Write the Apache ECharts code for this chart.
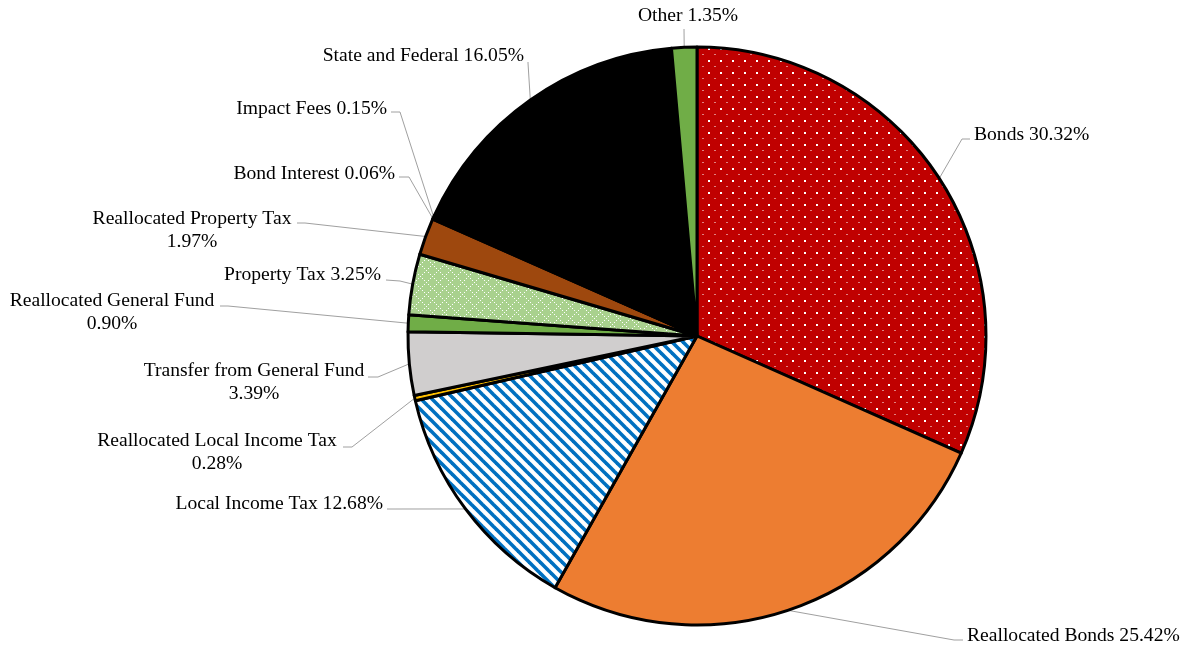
<!DOCTYPE html>
<html>
<head>
<meta charset="utf-8">
<title>Funding Sources</title>
<script src="https://cdn.jsdelivr.net/npm/echarts/dist/echarts.min.js"></script>
<style>
  html, body { margin: 0; padding: 0; background: #fff; }
  #chart { width: 1183px; height: 648px; }
</style>
</head>
<body>
<div id="chart"></div>
<script>
// Funding sources, shares in percent (clockwise from 12 o'clock)
const categories = [
  'Bonds', 'Reallocated Bonds', 'Local Income Tax', 'Reallocated Local Income Tax',
  'Transfer from General Fund', 'Reallocated General Fund', 'Property Tax',
  'Reallocated Property Tax', 'Bond Interest', 'Impact Fees', 'State and Federal', 'Other'
];
const shares = [30.32, 25.42, 12.68, 0.28, 3.39, 0.90, 3.25, 1.97, 0.06, 0.15, 16.05, 1.35];
// Labels whose percentage sits on a second line
const wrapPercent = [false, false, false, true, true, true, false, true, false, false, false, false];

// Label placement: text anchor, then leader elbow and leader end next to the text
const labelSpots = [
  { x: 974, y: 135, align: 'left',   bx: 962, by: 139, ex: 970, ey: 139 },
  { x: 967, y: 636, align: 'left',   bx: 954, by: 640, ex: 963, ey: 640 },
  { x: 383, y: 504, align: 'right',  bx: 396, by: 509, ex: 387, ey: 509 },
  { x: 217, y: 452, align: 'center', bx: 352, by: 447, ex: 343, ey: 447 },
  { x: 254, y: 382, align: 'center', bx: 378, by: 377, ex: 368, ey: 377 },
  { x: 112, y: 312, align: 'center', bx: 228, by: 306, ex: 220, ey: 306 },
  { x: 381, y: 275, align: 'right',  bx: 400, by: 281, ex: 386, ey: 280 },
  { x: 192, y: 230, align: 'center', bx: 305, by: 223, ex: 297, ey: 223 },
  { x: 395, y: 174, align: 'right',  bx: 409, by: 177, ex: 399, ey: 177 },
  { x: 387, y: 109, align: 'right',  bx: 400, by: 112, ex: 391, ey: 112 },
  { x: 524, y: 56,  align: 'right',  bx: 528, by: 63,  ex: 528, ey: 62 },
  { x: 688, y: 16,  align: 'center', bx: 684, by: 29,  ex: 684, ey: 29 }
];

// ---- fill patterns ----
function makeTile(size, draw) {
  const c = document.createElement('canvas');
  c.width = size; c.height = size;
  draw(c.getContext('2d'), size);
  return { image: c, repeat: 'repeat' };
}
const dotsRed = makeTile(12, (g, n) => {
  g.fillStyle = '#c00000'; g.fillRect(0, 0, n, n);
  g.fillStyle = '#ffffff'; g.fillRect(0, 0, 2, 2);
  g.fillStyle = 'rgba(255,255,255,0.5)'; g.fillRect(6, 6, 2, 1);
});
const stripesBlue = makeTile(11, (g, n) => {
  g.fillStyle = '#ffffff'; g.fillRect(0, 0, n, n);
  g.strokeStyle = '#0070c0'; g.lineWidth = 3.6;
  for (let k = -1; k <= 1; k++) {
    g.beginPath(); g.moveTo(k * n - 2, -2); g.lineTo(k * n + n + 2, n + 2); g.stroke();
  }
});
const latticeGreen = makeTile(12, (g, n) => {
  g.fillStyle = '#a9d18e'; g.fillRect(0, 0, n, n);
  g.fillStyle = '#ffffff';
  for (let i = 0; i < n; i++) {
    if (i % 2 === 0) {
      g.fillRect(i, i, 1, 1);
      g.fillRect(i, (n - i) % n, 1, 1);
    }
  }
});

const fills = [
  dotsRed, '#ed7d31', stripesBlue, '#ffc000', '#d0cece', '#70ad47',
  latticeGreen, '#9e480e', '#a5a5a5', '#4472c4', '#000000', '#70ad47'
];

const pieData = categories.map((name, i) => ({
  name: name,
  value: shares[i],
  itemStyle: { color: fills[i] },
  label: { align: labelSpots[i].align }
}));

const chart = echarts.init(document.getElementById('chart'), null, { renderer: 'canvas' });
chart.setOption({
  animation: false,
  backgroundColor: '#ffffff',
  series: [{
    type: 'pie',
    center: [697, 336],
    radius: 289,
    startAngle: 90,
    clockwise: true,
    avoidLabelOverlap: false,
    minShowLabelAngle: 0,
    data: pieData,
    itemStyle: { borderColor: '#000000', borderWidth: 3, borderJoin: 'round' },
    emphasis: { disabled: true },
    label: {
      show: true,
      position: 'outside',
      fontFamily: '"Liberation Serif", "Times New Roman", serif',
      fontSize: 19.6,
      lineHeight: 23,
      color: '#000000',
      formatter: (p) => p.name + (wrapPercent[p.dataIndex] ? '\n' : ' ') + p.value.toFixed(2) + '%'
    },
    labelLine: {
      show: true,
      smooth: false,
      length: 10,
      length2: 10,
      lineStyle: { color: '#a0a0a0', width: 1 }
    },
    labelLayout: (params) => {
      const s = labelSpots[params.dataIndex];
      const start = params.labelLinePoints ? params.labelLinePoints[0] : [s.bx, s.by];
      return {
        x: s.x,
        y: s.y,
        align: s.align,
        verticalAlign: 'middle',
        labelLinePoints: [start, [s.bx, s.by], [s.ex, s.ey]]
      };
    }
  }]
});
</script>
</body>
</html>
